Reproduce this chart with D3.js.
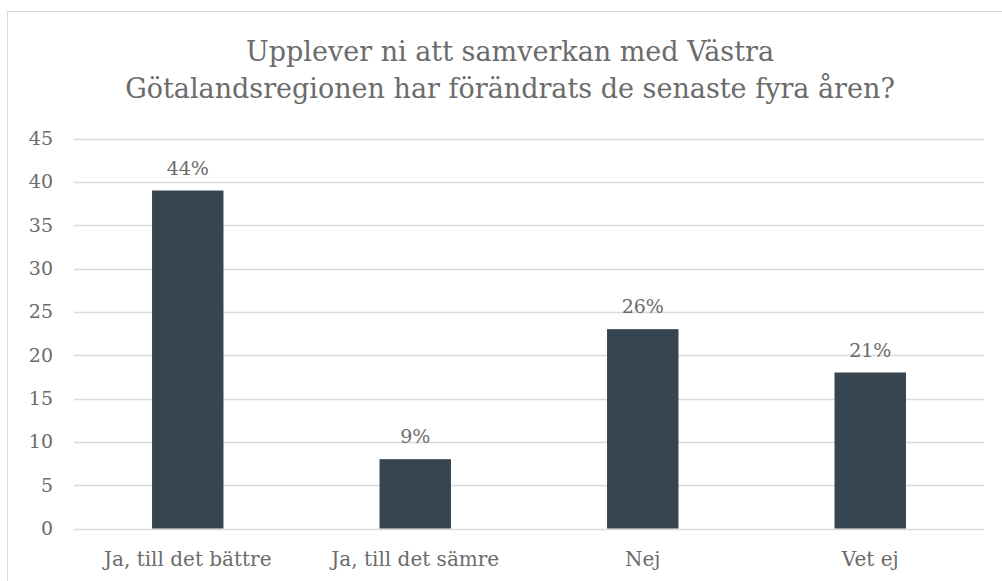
<!DOCTYPE html>
<html>
<head>
<meta charset="utf-8">
<script src="https://cdn.jsdelivr.net/npm/d3@7"></script>
<style>
  body { margin: 0; background: #fff; }
  svg text { font-family: "DejaVu Serif", Georgia, serif; fill: #6b6b6b; }
</style>
</head>
<body>
<script>
var titleLines = ["Upplever ni att samverkan med Västra", "Götalandsregionen har förändrats de senaste fyra åren?"];
var categories = ["Ja, till det bättre", "Ja, till det sämre", "Nej", "Vet ej"];
var values = [39, 8, 23, 18];
var percentLabels = ["44%", "9%", "26%", "21%"];
var yTicks = [0, 5, 10, 15, 20, 25, 30, 35, 40, 45];

var w = 1002, h = 581;
var plotLeft = 74, plotRight = 984, plotTop = 138.5, plotBottom = 528.5;

var svg = d3.select("body").append("svg")
    .attr("width", w)
    .attr("height", h);

// chart border (only left and top are visible in the crop)
svg.append("rect")
   .attr("x", 7.5).attr("y", 11.5)
   .attr("width", 1100).attr("height", 700)
   .attr("fill", "none")
   .attr("stroke", "#d9d9d9")
   .attr("stroke-width", 1);

var x = d3.scaleBand()
    .domain(categories)
    .range([plotLeft, plotRight])
    .paddingInner(0.686)
    .paddingOuter(0.343);

var y = d3.scaleLinear()
    .domain([0, 45])
    .range([plotBottom, plotTop]);

// gridlines
svg.append("g")
   .selectAll("line")
   .data(yTicks)
   .enter()
   .append("line")
   .attr("x1", plotLeft).attr("x2", plotRight)
   .attr("y1", function(d) { return Math.round(y(d)) + 0.5; })
   .attr("y2", function(d) { return Math.round(y(d)) + 0.5; })
   .attr("stroke", "#d9d9d9")
   .attr("stroke-width", 1.3);

// y axis labels
var yAxis = d3.axisLeft(y).tickValues(yTicks).tickSize(0).tickPadding(0);
var ya = svg.append("g").attr("transform", "translate(53,0)").call(yAxis);
ya.select(".domain").remove();
ya.selectAll("text")
  .attr("font-size", "19px")
  .attr("font-family", "\"DejaVu Serif\", serif")
  .attr("fill", "#6b6b6b");

// bars
svg.selectAll("rect.bar")
   .data(values)
   .enter()
   .append("rect")
   .attr("class", "bar")
   .attr("x", function(d, i) { return x(categories[i]); })
   .attr("y", function(d) { return y(d); })
   .attr("width", x.bandwidth())
   .attr("height", function(d) { return y(0) - y(d); })
   .attr("fill", "#36454f");

// value labels
svg.selectAll("text.val")
   .data(values)
   .enter()
   .append("text")
   .attr("class", "val")
   .text(function(d, i) { return percentLabels[i]; })
   .attr("x", function(d, i) { return x(categories[i]) + x.bandwidth() / 2; })
   .attr("y", function(d) { return y(d) - 16; })
   .attr("font-size", "19px")
   .attr("text-anchor", "middle");

// category labels
var xAxis = d3.axisBottom(x).tickSize(0).tickPadding(0);
var xa = svg.append("g").attr("transform", "translate(0," + plotBottom + ")").call(xAxis);
xa.select(".domain").remove();
xa.selectAll("text")
  .attr("dy", null)
  .attr("y", 37)
  .attr("font-size", "20px")
  .attr("font-family", "\"DejaVu Serif\", serif")
  .attr("fill", "#6b6b6b");

// title
svg.selectAll("text.title")
   .data(titleLines)
   .enter()
   .append("text")
   .attr("class", "title")
   .text(function(d) { return d; })
   .attr("x", 510)
   .attr("y", function(d, i) { return 61 + i * 37; })
   .attr("font-size", "27px")
   .attr("text-anchor", "middle");
</script>
</body>
</html>
